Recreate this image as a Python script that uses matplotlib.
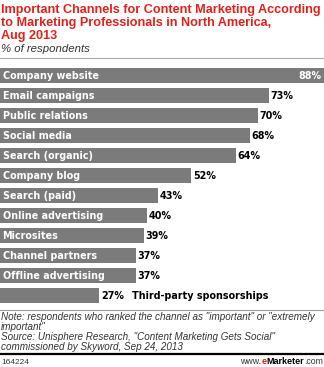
import matplotlib.pyplot as plt

channels = ["Company website", "Email campaigns", "Public relations", "Social media",
            "Search (organic)", "Company blog", "Search (paid)", "Online advertising",
            "Microsites", "Channel partners", "Offline advertising", "Third-party sponsorships"]
values = [88, 73, 70, 68, 64, 52, 43, 40, 39, 37, 37, 27]

W, H = 324, 367
RED = "#e3211b"
BAR = "#7b7b7b"
TXT = "#333333"

plt.rcParams["font.family"] = ["Liberation Sans", "DejaVu Sans"]
fig = plt.figure(figsize=(W / 100, H / 100), dpi=100)
fig.patch.set_facecolor("white")


def fy(px):
    return 1 - px / H


# title block
title_lines = ["Important Channels for Content Marketing According",
               "to Marketing Professionals in North America,",
               "Aug 2013"]
for k, line in enumerate(title_lines):
    fig.text(1 / W, fy(10.5 + 12.5 * k), line, color=RED, fontsize=9.1, fontweight="bold",
             va="center", ha="left")
fig.text(1 / W, fy(48.5), "% of respondents", color=TXT, fontsize=8.2, style="italic", va="center")
fig.add_artist(plt.Line2D([0, 1], [fy(57.5)] * 2, color="#aaaaaa", lw=0.8))

# bars
top, bottom = 65.5, 305.5
ax = fig.add_axes([0, fy(bottom), 1, (bottom - top) / H])
n = len(channels)
ypos = list(range(n))
ax.barh(ypos, values, height=0.72, color=BAR)
ax.set_xlim(0, W / 3.68)
ax.set_ylim(n - 0.5, -0.5)
ax.axis("off")

for i, (name, v) in enumerate(zip(channels, values)):
    if i == 0:
        ax.text(v - 0.6, i, f"{v}%", color="white", fontsize=6.9, fontweight="bold",
                va="center", ha="right", family="DejaVu Sans")
    else:
        ax.text(v + 0.4, i, f"{v}%", color="black", fontsize=6.9, fontweight="bold",
                va="center", ha="left", family="DejaVu Sans")
    if name == "Third-party sponsorships":
        ax.text(36, i, name, color="black", fontsize=6.9, fontweight="bold",
                va="center", ha="left", family="DejaVu Sans")
    else:
        ax.text(0.7, i, name, color="white", fontsize=6.9, fontweight="bold",
                va="center", ha="left", family="DejaVu Sans")

# notes
fig.add_artist(plt.Line2D([0, 1], [fy(309.5)] * 2, color="#999999", lw=0.8))
note_lines = ["Note: respondents who ranked the channel as \"important\" or \"extremely",
              "important\"",
              "Source: Unisphere Research, \"Content Marketing Gets Social\"",
              "commissioned by Skyword, Sep 24, 2013"]
for k, line in enumerate(note_lines):
    fig.text(1 / W, fy(317.5 + 10 * k), line, color=TXT, fontsize=7.1, style="italic",
             va="center", ha="left")
fig.add_artist(plt.Line2D([0, 1], [fy(353.5)] * 2, color="black", lw=1.6))

# footer
foot_y = fy(362)
fig.text(1 / W, foot_y, "164224", color=TXT, fontsize=6.0, va="center", ha="left")
t3 = fig.text(1 - 1 / W, foot_y, ".com", color=TXT, fontsize=6.3, va="center", ha="right")
fig.canvas.draw()
r = fig.canvas.get_renderer()
x_right = t3.get_window_extent(r).x0
t2 = fig.text(x_right / W, foot_y, "Marketer", color="black", fontsize=6.5, fontweight="bold",
              va="center", ha="right")
x_right = t2.get_window_extent(r).x0
t1 = fig.text(x_right / W, foot_y, "e", color=RED, fontsize=6.5, fontweight="bold",
              va="center", ha="right")
x_right = t1.get_window_extent(r).x0
fig.text(x_right / W, foot_y, "www.", color=TXT, fontsize=6.3, va="center", ha="right")

fig.savefig("out.png", dpi=100, facecolor="white")
